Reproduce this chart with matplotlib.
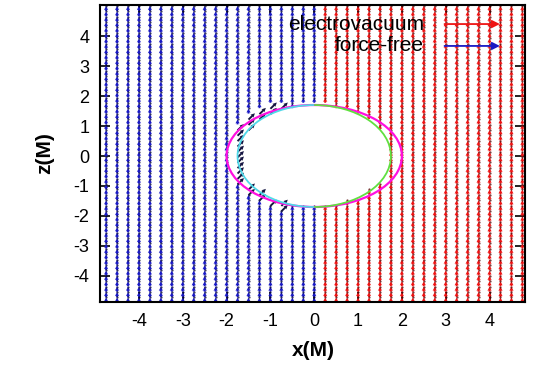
import numpy as np
import matplotlib
matplotlib.use('Agg')
import matplotlib.pyplot as plt
from matplotlib.patches import Ellipse, Arc

# text in an Arial-like face, plain hyphen minus like gnuplot
plt.rcParams['font.family'] = ['Liberation Sans', 'DejaVu Sans']
plt.rcParams['axes.unicode_minus'] = False

# sampling grid of the field (units of M)
x_cols = np.arange(-4.75, 4.80, 0.25)
z_rows = np.arange(-4.80, 5.00, 0.18)

# horizon and ergosphere, semi axes (x, z)
horizon_axes = (1.75, 1.70)
ergo_axes = (2.00, 1.70)
# force-free lines lean over close to the horizon (deg from vertical)
ergo_tilt = 35.0
tilt_band = 1.35   # in units of (r / r_horizon)^2
tilt_xmax = -0.7
arrow_len = 0.17

x_ticks = [-4, -3, -2, -1, 0, 1, 2, 3, 4]
z_ticks = [-4, -3, -2, -1, 0, 1, 2, 3, 4]
series_names = ['electrovacuum', 'force-free']
series_colors = ['#ee1414', '#1a1ac4']
head_colors = ['#500000', '#000030']


def field_arrows(X, Z):
    # keep only points outside the horizon
    r_h = (X / horizon_axes[0])**2 + (Z / horizon_axes[1])**2
    outside = r_h >= 1.0
    near = (r_h < tilt_band) & (X < tilt_xmax) & (X > -1.9)
    tilt = np.where(near, np.radians(ergo_tilt), 0.0)
    length = np.where(near, 1.5 * arrow_len, arrow_len)
    U = length * np.sin(tilt)
    V = length * np.cos(tilt)
    return outside, U, V, near


fig = plt.figure(figsize=(5.34, 3.68), dpi=100)
ax = fig.add_axes([0.188, 0.180, 0.796, 0.806])

X, Z = np.meshgrid(x_cols, z_rows)
outside, U, V, near = field_arrows(X, Z)

# left half: force-free, right half: electrovacuum
masks = [outside & (X > 0.01), outside & (X <= 0.01) & ~near]
qkw = dict(angles='xy', scale_units='xy', scale=1, units='dots', width=1.9,
           headwidth=2.2, headlength=2.2, headaxislength=2.0, linewidth=0, zorder=2)
for m, col, hc in zip(masks, series_colors, head_colors):
    ax.quiver(X[m], Z[m] - V[m] / 2, U[m], V[m], color=col, **qkw)
    # darker arrow heads
    ax.plot(X[m] + U[m] / 2, Z[m] + V[m] / 2, ls='none', marker='o', ms=1.6,
            mfc=hc, mec='none', alpha=0.75, zorder=2)
# leaning arrows near the horizon look nearly black
m = outside & near
ax.quiver(X[m], Z[m] - V[m] / 2, U[m], V[m], color='#141440', **qkw)

# ergosphere and horizon
ax.add_patch(Ellipse((0, 0), 2 * ergo_axes[0], 2 * ergo_axes[1], fill=False,
                     edgecolor='#ff10e0', lw=1.6, zorder=3))
ax.add_patch(Arc((0, 0), 2 * horizon_axes[0], 2 * horizon_axes[1], theta1=90, theta2=270,
                 edgecolor='#50d8e8', lw=1.3, zorder=3))
ax.add_patch(Arc((0, 0), 2 * horizon_axes[0], 2 * horizon_axes[1], theta1=-90, theta2=90,
                 edgecolor='#60e040', lw=1.3, zorder=3))

# gnuplot style key
key_y = [4.40, 3.67]
for name, col, ky in zip(series_names, series_colors, key_y):
    ax.text(2.50, ky, name, ha='right', va='center', fontsize=15, zorder=5)
    ax.annotate('', xy=(4.30, ky), xytext=(2.91, ky),
                arrowprops=dict(arrowstyle='-|>', color=col, lw=1.3,
                                mutation_scale=11), zorder=5)

ax.set_xlim(-4.88, 4.82)
ax.set_ylim(-4.86, 5.03)
ax.set_xticks(x_ticks)
ax.set_yticks(z_ticks)
ax.tick_params(direction='in', length=7, width=1.2, top=True, right=True,
               labelsize=13, pad=8)
for sp in ax.spines.values():
    sp.set_linewidth(1.5)
ax.set_xlabel('x(M)', fontsize=15, fontweight='bold', labelpad=8)
ax.set_ylabel('z(M)', fontsize=15, fontweight='bold', labelpad=14)

fig.savefig('out.png', dpi=100)
